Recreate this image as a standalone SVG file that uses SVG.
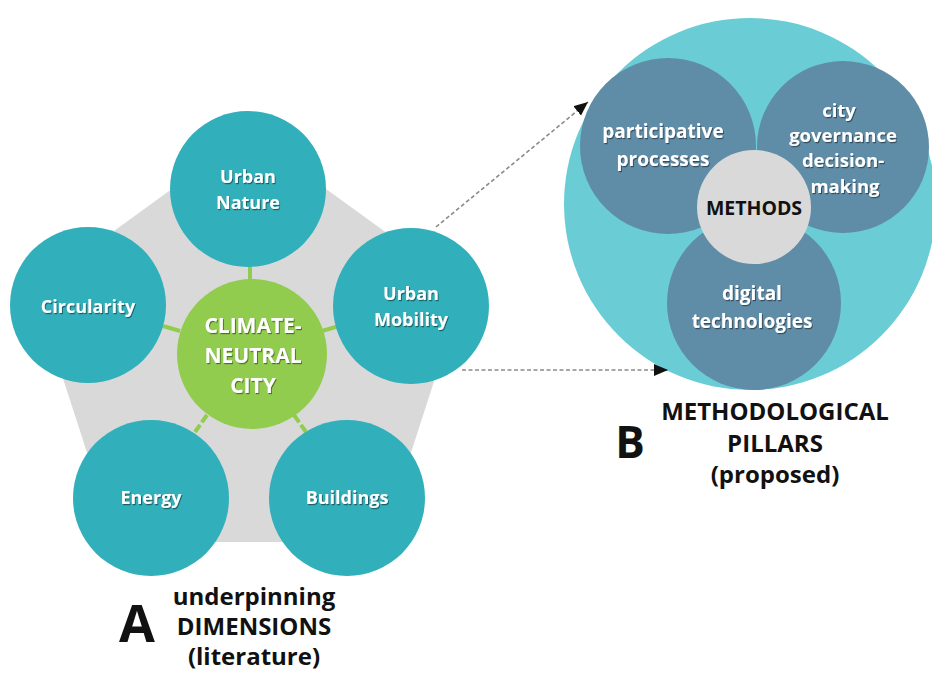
<svg xmlns="http://www.w3.org/2000/svg" width="932" height="675" viewBox="0 0 932 675">
<defs>
<style>
.dim{fill:#31afba}
.lbl{font-family:"Open Sans","Liberation Sans",sans-serif;font-weight:700;fill:#ffffff;text-anchor:middle}
.pil{fill:#5f8ca7}
.ttl{font-family:"Open Sans","Liberation Sans",sans-serif;font-weight:700;fill:#111111;text-anchor:middle}
.tick{stroke:#92cc4e;stroke-width:4}
.conn{stroke:#8a8a8a;stroke-width:1.6;stroke-dasharray:4 2.5;fill:none}
</style>
<filter id="sh" x="-10%" y="-20%" width="130%" height="150%">
<feDropShadow dx="1" dy="1.2" stdDeviation="0.7" flood-color="#000" flood-opacity="0.45"/>
</filter>
<marker id="ah" markerUnits="userSpaceOnUse" markerWidth="16" markerHeight="14" refX="14" refY="6" orient="auto">
<path d="M0,0 L14,6 L0,12 Z" fill="#111"/>
</marker>
</defs>
<rect width="932" height="675" fill="#ffffff"/>

<g id="pentagon">
<polygon points="249,133 464,289 382,542 116,542 34,289" fill="#d9d9d9"/>
</g>

<g id="ticks">
<line class="tick" x1="250" y1="280" x2="250" y2="264"/>
<line class="tick" x1="180" y1="331" x2="163" y2="326"/>
<line class="tick" x1="322" y1="331" x2="339" y2="326"/>
<line class="tick" x1="207" y1="415" x2="195" y2="432" stroke-dasharray="9 3"/>
<line class="tick" x1="294" y1="415" x2="306" y2="432" stroke-dasharray="9 3"/>
</g>

<g id="center">
<circle cx="252" cy="354" r="75" fill="#92cc4e"/>
<text class="lbl" font-size="21" filter="url(#sh)" fill="#f7fbef"><tspan x="253" y="333">CLIMATE-</tspan><tspan x="253" y="363">NEUTRAL</tspan><tspan x="253" y="393">CITY</tspan></text>
</g>

<g id="urban-nature">
<circle class="dim" cx="248" cy="189" r="78"/>
<text class="lbl" font-size="18" filter="url(#sh)"><tspan x="248" y="183">Urban</tspan><tspan x="248" y="209">Nature</tspan></text>
</g>
<g id="circularity">
<circle class="dim" cx="88" cy="305" r="78"/>
<text class="lbl" font-size="18" filter="url(#sh)" x="88" y="313">Circularity</text>
</g>
<g id="urban-mobility">
<circle class="dim" cx="411" cy="306" r="78"/>
<text class="lbl" font-size="18" filter="url(#sh)"><tspan x="411" y="300">Urban</tspan><tspan x="411" y="326">Mobility</tspan></text>
</g>
<g id="energy">
<circle class="dim" cx="151" cy="498" r="78"/>
<text class="lbl" font-size="18" filter="url(#sh)" x="151" y="504">Energy</text>
</g>
<g id="buildings">
<circle class="dim" cx="347" cy="498" r="78"/>
<text class="lbl" font-size="18" filter="url(#sh)" x="347" y="504">Buildings</text>
</g>

<g id="label-a">
<text class="ttl" font-size="52" x="137" y="642">A</text>
<text class="ttl" font-size="24"><tspan x="254" y="605">underpinning</tspan><tspan x="254" y="635">DIMENSIONS</tspan><tspan x="254" y="665">(literature)</tspan></text>
</g>

<g id="pillars">
<circle cx="750" cy="204" r="186" fill="#6acdd6"/>
<g id="participative">
<circle class="pil" cx="668" cy="146" r="88"/>
<text class="lbl" font-size="19" filter="url(#sh)"><tspan x="663" y="138">participative</tspan><tspan x="663" y="166">processes</tspan></text>
</g>
<g id="governance">
<circle class="pil" cx="843" cy="147" r="86"/>
<text class="lbl" font-size="18.5" filter="url(#sh)"><tspan x="839" y="117">city</tspan><tspan x="843" y="142">governance</tspan><tspan x="843" y="167">decision-</tspan><tspan x="845" y="193">making</tspan></text>
</g>
<g id="digital">
<circle class="pil" cx="754" cy="303" r="87"/>
<text class="lbl" font-size="19" filter="url(#sh)"><tspan x="752" y="300">digital</tspan><tspan x="752" y="328">technologies</tspan></text>
</g>
<g id="methods">
<circle cx="754" cy="207" r="57" fill="#d9d9d9"/>
<text class="ttl" font-size="19.5" x="754" y="215">METHODS</text>
</g>
</g>

<g id="label-b">
<text class="ttl" font-size="44" x="630" y="458">B</text>
<text class="ttl" font-size="24"><tspan x="775" y="420">METHODOLOGICAL</tspan><tspan x="775" y="452">PILLARS</tspan><tspan x="775" y="483">(proposed)</tspan></text>
</g>

<g id="connectors">
<line class="conn" x1="436" y1="227" x2="588" y2="102" marker-end="url(#ah)"/>
<line class="conn" x1="462" y1="370" x2="668" y2="370" marker-end="url(#ah)"/>
</g>
</svg>
